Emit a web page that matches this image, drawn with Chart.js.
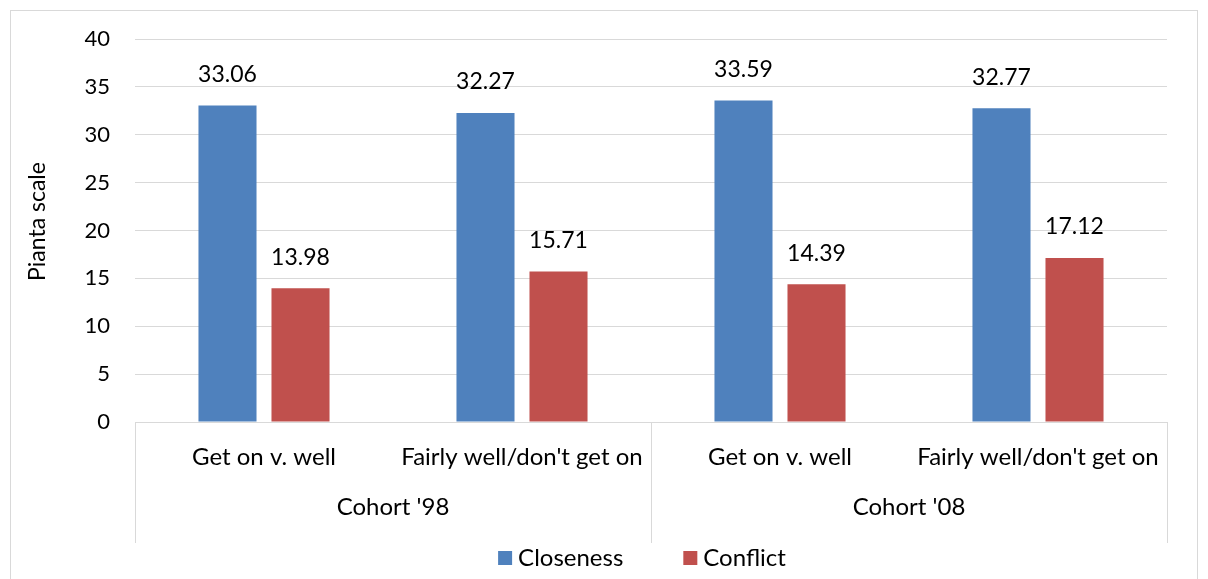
<!DOCTYPE html>
<html lang="en">
<head>
    <meta charset="UTF-8">
    <title>Pianta scale by cohort</title>
    <script src="https://cdn.jsdelivr.net/npm/chart.js"></script>
    <style>
        body { margin: 0; background: #fff; }
        #wrap { width: 1208px; height: 579px; }
    </style>
</head>
<body>
    <div id="wrap"><canvas id="barChart" width="1208" height="579"></canvas></div>

    <script>
        // data
        const categories = ["Get on v. well", "Fairly well/don't get on", "Get on v. well", "Fairly well/don't get on"];
        const cohorts = ["Cohort '98", "Cohort '08"];
        const closeness = [33.06, 32.27, 33.59, 32.77];
        const conflict = [13.98, 15.71, 14.39, 17.12];
        const yTicks = [0, 5, 10, 15, 20, 25, 30, 35, 40];

        const FONT = 'Lato, Calibri, sans-serif';
        const gridColor = '#D9D9D9';

        // extra bits Excel draws: outer border, value labels, cohort row, legend
        const extras = {
            id: 'extras',
            afterDraw(chart) {
                const ctx = chart.ctx;
                const x = chart.scales.x;
                const area = chart.chartArea;
                ctx.save();

                // outer frame
                ctx.strokeStyle = gridColor;
                ctx.lineWidth = 1;
                ctx.strokeRect(10.5, 10.5, 1187, 580);

                // value labels
                ctx.font = '23px ' + FONT;
                ctx.fillStyle = '#000';
                ctx.textAlign = 'center';
                ctx.textBaseline = 'middle';
                chart.data.datasets.forEach((ds, i) => {
                    chart.getDatasetMeta(i).data.forEach((bar, j) => {
                        ctx.fillText(ds.data[j].toFixed(2), bar.x, bar.y - 31);
                    });
                });

                // cohort group separators + labels
                ctx.font = '24px ' + FONT;
                const bottom = area.bottom + 121;
                const mid = (x.getPixelForValue(1) + x.getPixelForValue(2)) / 2;
                const seps = [area.left, mid, area.right];
                ctx.beginPath();
                seps.forEach(p => {
                    const px = Math.round(p) + 0.5;
                    ctx.moveTo(px, area.bottom);
                    ctx.lineTo(px, bottom);
                });
                ctx.stroke();
                cohorts.forEach((c, i) => {
                    ctx.fillText(c, (seps[i] + seps[i + 1]) / 2, area.bottom + 85);
                });

                // legend
                const legendY = 558;
                ctx.textAlign = 'left';
                const items = chart.data.datasets.map(ds => ({ label: ds.label, color: ds.backgroundColor }));
                const widths = items.map(it => 14 + 6 + ctx.measureText(it.label).width);
                const gap = 60;
                const total = widths.reduce((a, b) => a + b, 0) + gap;
                let lx = 642 - total / 2;
                items.forEach((it, i) => {
                    ctx.fillStyle = it.color;
                    ctx.fillRect(lx, legendY - 7, 14, 14);
                    ctx.fillStyle = '#000';
                    ctx.fillText(it.label, lx + 20, legendY);
                    lx += widths[i] + gap;
                });

                // y axis title
                ctx.font = '23px ' + FONT;
                ctx.translate(38, (area.top + area.bottom) / 2 - 9);
                ctx.rotate(-Math.PI / 2);
                ctx.textAlign = 'center';
                ctx.fillText('Pianta scale', 0, 0);
                ctx.restore();
            }
        };

        const ctx = document.getElementById('barChart').getContext('2d');
        const barChart = new Chart(ctx, {
            type: 'bar',
            data: {
                labels: categories,
                datasets: [
                    { label: 'Closeness', data: closeness, backgroundColor: '#4F81BD' },
                    { label: 'Conflict', data: conflict, backgroundColor: '#C0504D' }
                ]
            },
            options: {
                responsive: false,
                animation: false,
                categoryPercentage: 0.566,
                barPercentage: 0.795,
                layout: { padding: { left: 0, right: 41, top: 39, bottom: 36 } },
                plugins: {
                    legend: { display: false },
                    tooltip: { enabled: false }
                },
                scales: {
                    x: {
                        grid: { display: false, drawTicks: false },
                        border: { color: gridColor },
                        ticks: {
                            font: { family: FONT, size: 24 },
                            color: '#000',
                            padding: 21,
                            maxRotation: 0,
                            autoSkip: false
                        },
                        afterFit(scale) { scale.height = 121; }
                    },
                    y: {
                        min: 0,
                        max: 40,
                        afterBuildTicks(scale) { scale.ticks = yTicks.map(v => ({ value: v })); },
                        grid: { color: gridColor, drawTicks: false },
                        border: { display: false },
                        ticks: {
                            font: { family: FONT, size: 22 },
                            color: '#000',
                            padding: 25
                        },
                        afterFit(scale) { scale.width = 135; }
                    }
                }
            },
            plugins: [extras]
        });
    </script>
</body>
</html>
